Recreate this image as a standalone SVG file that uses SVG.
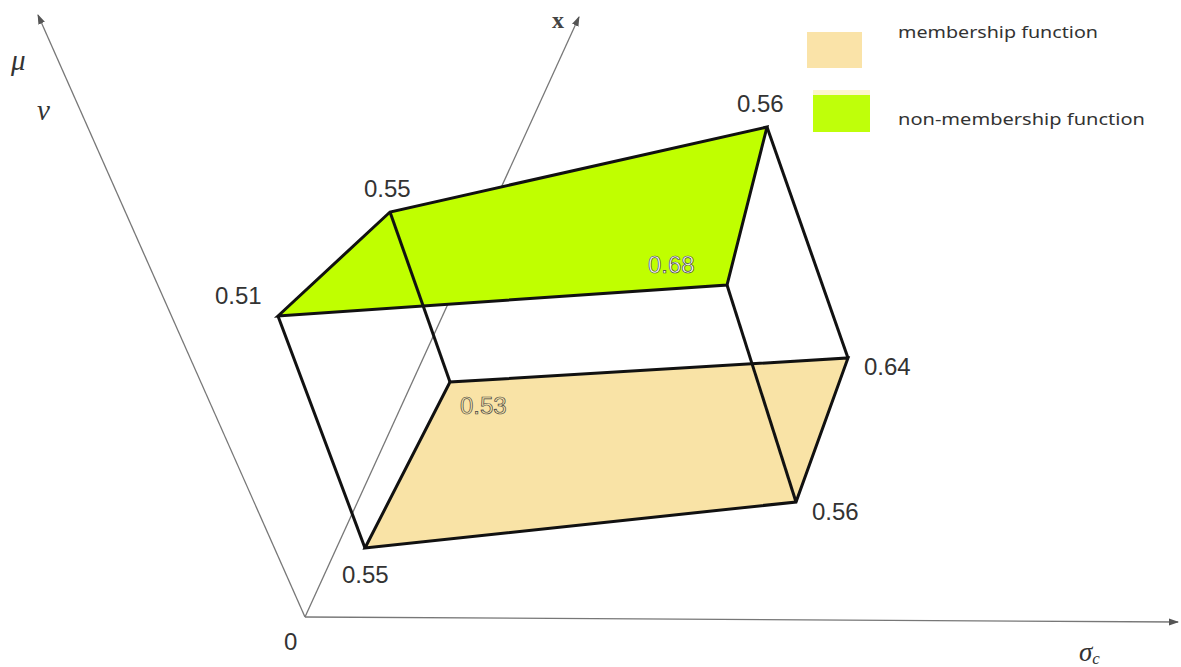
<svg xmlns="http://www.w3.org/2000/svg" width="1181" height="667" viewBox="0 0 1181 667">
<style>
.ax{stroke:#777;stroke-width:1.3;fill:none}
.ed{stroke:#111;stroke-width:3;fill:none;stroke-linejoin:miter}
.num{font-family:"Liberation Sans",Arial,sans-serif;font-size:24px;fill:#333}
.out{font-family:"Liberation Sans",Arial,sans-serif;font-size:24px;stroke:#444;stroke-width:0.7}
.leg{font-family:"Noto Sans","Open Sans",sans-serif;font-size:17px;fill:#333}
.gk{font-family:"Liberation Serif","DejaVu Serif",serif;font-style:italic;fill:#333}
</style>
<defs>
<marker id="ah" viewBox="0 0 10 10" refX="9" refY="5" markerWidth="10" markerHeight="10" markerUnits="userSpaceOnUse" orient="auto">
<path d="M0,1.5 L10,5 L0,8.5 Z" fill="#555"/>
</marker>
</defs>
<rect width="1181" height="667" fill="#fff"/>
<g id="axes">
<line class="ax" x1="305" y1="617" x2="38" y2="15" marker-end="url(#ah)"/>
<line class="ax" x1="305" y1="617" x2="579" y2="17" marker-end="url(#ah)"/>
<line class="ax" x1="305" y1="617" x2="1178" y2="622" marker-end="url(#ah)"/>
</g>
<g id="faces">
<polygon points="278,316 390,212 767,127 727,285" fill="#c0ff00"/>
<polygon points="365,548 450,382 848,358 796,502" fill="#f9e3a6"/>
</g>
<g id="edges">
<polygon class="ed" points="278,316 390,212 767,127 727,285"/>
<polygon class="ed" points="365,548 450,382 848,358 796,502"/>
<line class="ed" x1="278" y1="316" x2="365" y2="548"/>
<line class="ed" x1="390" y1="212" x2="450" y2="382"/>
<line class="ed" x1="767" y1="127" x2="848" y2="358"/>
<line class="ed" x1="727" y1="285" x2="796" y2="502"/>
</g>
<g id="labels">
<text class="num" x="215" y="304">0.51</text>
<text class="num" x="364" y="197">0.55</text>
<text class="num" x="737" y="112">0.56</text>
<text class="out" x="648" y="273" fill="#ffffff">0.68</text>
<text class="out" x="460" y="414" fill="#f9e3a6">0.53</text>
<text class="num" x="864" y="375">0.64</text>
<text class="num" x="812" y="520">0.56</text>
<text class="num" x="342" y="583">0.55</text>
<text class="num" x="284" y="650">0</text>
<text class="gk" x="11" y="70" font-size="29">μ</text>
<text class="gk" x="37" y="120" font-size="29">ν</text>
<text x="552" y="28" font-family="Liberation Serif,serif" font-weight="bold" font-size="24" fill="#444">x</text>
<text class="gk" x="1079" y="661" font-size="27">σ<tspan font-size="17" dy="3">c</tspan></text>
</g>
<g id="legend">
<rect x="807" y="32" width="55" height="36" fill="#fae3a8"/>
<rect x="813" y="90" width="57" height="6" fill="#fdf6cc"/>
<rect x="813" y="95" width="57" height="37" fill="#bfff0a"/>
<text class="leg" x="898" y="38" textLength="200" lengthAdjust="spacingAndGlyphs">membership function</text>
<text class="leg" x="898" y="125" textLength="247" lengthAdjust="spacingAndGlyphs">non-membership function</text>
</g>
</svg>
